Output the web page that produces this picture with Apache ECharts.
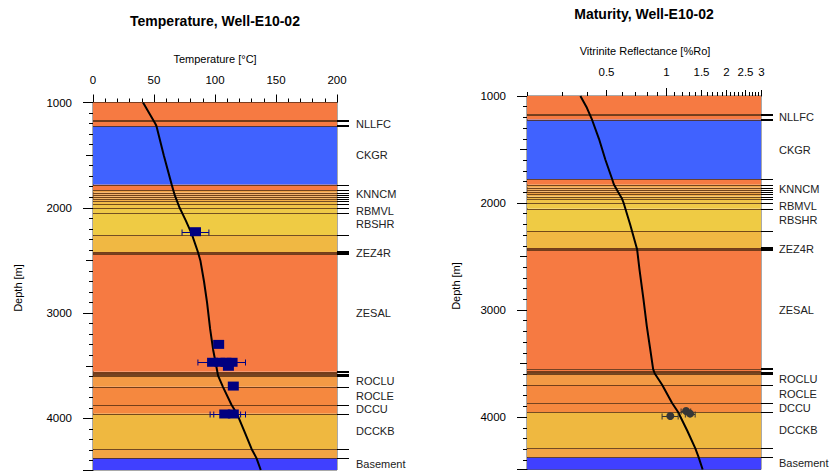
<!DOCTYPE html>
<html><head><meta charset="utf-8">
<script src="https://cdn.jsdelivr.net/npm/echarts@6/dist/echarts.min.js"></script>
<style>html,body{margin:0;padding:0;background:#fff}#c{width:830px;height:472px}</style>
</head><body><div id="c"></div>
<script>
// ---------- data ----------
const roTickLabels = [0.5, 1, 1.5, 2, 2.5, 3];
const roMinorTicks = [0.2, 0.3, 0.4, 0.6, 0.7, 0.8, 0.9, 1.1, 1.2, 1.3, 1.4, 1.6, 1.7, 1.8, 1.9, 2.1, 2.2, 2.3, 2.4, 2.6, 2.7, 2.8, 2.9];

const layerTops  = [1000, 1176, 1223, 1780, 1830, 1855, 1875, 1893, 1915, 1940, 1965, 2003, 2052, 2262, 2420, 2437, 3555, 3580, 3594, 3700, 3872, 3955, 4293, 4377];
const layerBases = [1176, 1223, 1780, 1830, 1855, 1875, 1893, 1915, 1940, 1965, 2003, 2052, 2262, 2420, 2437, 3555, 3580, 3594, 3700, 3872, 3955, 4293, 4377, 4490];

const formationNames = ['NLLFC', 'CKGR', 'KNNCM', 'RBMVL', 'RBSHR', 'ZEZ4R', 'ZESAL', 'ROCLU', 'ROCLE', 'DCCU', 'DCCKB', 'Basement'];
const formationTops  = [1176, 1223, 1780, 2003, 2052, 2420, 2437, 3594, 3700, 3872, 3955, 4377];
const formationBases = [1223, 1780, 1965, 2052, 2262, 2437, 3555, 3700, 3872, 3955, 4293, 4490];

const tempProfileDepth = [1000, 1100, 1200, 1223, 1500, 1780, 1880, 2000, 2120, 2250, 2420, 2500, 2700, 2900, 3150, 3350, 3500, 3594, 3700, 3870, 3955, 4120, 4290, 4377, 4490];
const tempProfileValue = [41, 46, 51, 52, 58, 64.5, 67, 71, 76, 81, 86, 88, 91, 93.5, 96, 98.5, 101, 102.5, 106.5, 113.5, 118, 124, 130, 134, 137.5];

const tempObsDepth = [2227, 3297, 3467, 3467, 3467, 3467, 3505, 3693, 3958, 3958];
const tempObsValue = [84, 103, 98, 104, 109, 114, 111, 115, 108, 115];
const tempObsLow   = [73, null, 86, null, null, 103, null, null, 96, 99];
const tempObsHigh  = [95, null, 110, null, null, 125, null, null, 121, 125];

const roProfileDepth = [1000, 1110, 1224, 1400, 1598, 1778, 1824, 1900, 1961, 2000, 2200, 2431, 2620, 2900, 3150, 3350, 3552, 3593, 3698, 3869, 3953, 4130, 4293, 4374, 4490];
const roProfileValue = [0.371, 0.40, 0.425, 0.46, 0.496, 0.536, 0.546, 0.575, 0.601, 0.612, 0.66, 0.715, 0.735, 0.77, 0.80, 0.83, 0.861, 0.877, 0.955, 1.072, 1.149, 1.28, 1.403, 1.457, 1.527];

const roObsDepth = [3990, 3943, 3968];
const roObsValue = [1.05, 1.26, 1.32];
const roObsLow   = [0.955, 1.19, 1.25];
const roObsHigh  = [1.15, 1.33, 1.40];

// ---------- styles ----------
const layerColors = ['#F67A42', '#F67A42', '#4062FF', '#F67A42', '#F3A64A', '#EE9C40', '#F5A548', '#F0A040', '#F4B04A', '#F2BC48', '#F0C448', '#EFC947', '#EFCB44', '#F0B843', '#F67A42', '#F67A42', '#F67A42', '#F67A42', '#F39A45', '#F5883F', '#F5883F', '#EFB840', '#F2A444', '#4040FF'];
const innerWeights = [2, 1, 1, 1, 1, 1, 1, 1, 1, 1, 1, 1, 1, 1, 2, 1, 2, 2, 1, 1, 1, 1, 1];
const tickWeights  = [2, 2, 1, 1, 1, 1, 1, 1, 1, 1, 1, 1, 1, 2, 2, 2, 1, 2, 1, 1, 1, 1, 1];
const FONT = 'Liberation Sans, Arial, sans-serif';

const chart = echarts.init(document.getElementById('c'), null, {renderer: 'svg'});

function crisp(y, w) { return Math.round(w) % 2 ? Math.round(y) + 0.5 : Math.round(y); }

function panelSeries(gi, xRef, labelGap) {
  const xa = gi, ya = gi * 2;
  const boundaries = layerTops.slice(1);
  return [
    { type: 'custom', xAxisIndex: xa, yAxisIndex: ya, z: 1, silent: true, clip: false,
      data: layerTops.map((t, i) => [t, layerBases[i]]), encode: {y: [0, 1]},
      renderItem: (params, api) => {
        const cs = params.coordSys;
        const y1 = api.coord([xRef, api.value(0)])[1];
        const y2 = api.coord([xRef, api.value(1)])[1];
        return {type: 'rect', shape: {x: cs.x, y: y1, width: cs.width, height: y2 - y1},
          style: {fill: layerColors[params.dataIndex]}};
      } },
    { type: 'custom', xAxisIndex: xa, yAxisIndex: ya, z: 2, silent: true, clip: false,
      data: boundaries.map(d => [d]), encode: {y: 0},
      renderItem: (params, api) => {
        const cs = params.coordSys;
        const wi = innerWeights[params.dataIndex];
        const wt = tickWeights[params.dataIndex];
        const yr = api.coord([xRef, api.value(0)])[1];
        const yi = crisp(yr, wi), yt = crisp(yr, wt);
        return {type: 'group', children: [
          {type: 'line', shape: {x1: cs.x, y1: yi, x2: cs.x + cs.width, y2: yi},
            style: {stroke: 'rgba(80,42,14,0.78)', lineWidth: wi}},
          {type: 'line', shape: {x1: cs.x + cs.width, y1: yt, x2: cs.x + cs.width + 12, y2: yt},
            style: {stroke: '#000', lineWidth: wt}}
        ]};
      } },
    { type: 'custom', xAxisIndex: xa, yAxisIndex: ya, z: 2, silent: true, clip: false,
      data: formationTops.map((t, i) => [t, formationBases[i]]), encode: {y: [0, 1]},
      renderItem: (params, api) => {
        const cs = params.coordSys;
        const y1 = api.coord([xRef, api.value(0)])[1];
        const y2 = api.coord([xRef, api.value(1)])[1];
        return {type: 'text', x: cs.x + cs.width + labelGap, y: (y1 + y2) / 2,
          style: {text: formationNames[params.dataIndex], fill: '#222', font: '11px ' + FONT,
            align: 'left', verticalAlign: 'middle'}};
      } }
  ];
}

function errorBarSeries(xa, ya, depth, val, lo, hi, color) {
  const rows = [];
  depth.forEach((d, i) => { if (lo[i] != null) rows.push([val[i], d, lo[i], hi[i]]); });
  return { type: 'custom', xAxisIndex: xa, yAxisIndex: ya, z: 4, silent: true, clip: false,
    data: rows, encode: {x: 0, y: 1},
    renderItem: (params, api) => {
      const p = api.coord([api.value(2), api.value(1)]);
      const q = api.coord([api.value(3), api.value(1)]);
      const y = Math.round(p[1]) + 0.5;
      const st = {stroke: color, lineWidth: 1};
      return {type: 'group', children: [
        {type: 'line', shape: {x1: p[0], y1: y, x2: q[0], y2: y}, style: st},
        {type: 'line', shape: {x1: p[0], y1: y - 3, x2: p[0], y2: y + 3}, style: st},
        {type: 'line', shape: {x1: q[0], y1: y - 3, x2: q[0], y2: y + 3}, style: st}
      ]};
    } };
}

const yAxisBase = (gi) => ({
  type: 'value', gridIndex: gi, min: 1000, max: 4490, interval: 500, inverse: true,
  axisLine: {show: true, lineStyle: {color: '#000', width: 1}},
  axisTick: {show: true, length: 7, lineStyle: {color: '#000'}},
  minorTick: {show: true, splitNumber: 5, length: 4, lineStyle: {color: '#000'}},
  splitLine: {show: false},
  axisLabel: {margin: 21, color: '#000', fontSize: 11.5, fontFamily: FONT,
    formatter: v => (v % 1000 === 0 ? String(v) : '')}
});
const yAxisLong = (gi) => ({
  type: 'value', gridIndex: gi, min: 1000, max: 4490, interval: 1000, inverse: true, position: 'left',
  axisLine: {show: false}, axisTick: {show: true, length: 10, lineStyle: {color: '#000'}},
  splitLine: {show: false}, axisLabel: {show: false}
});

const option = {
  animation: false,
  grid: [
    {left: 93, top: 102.5, width: 244, height: 367.5, show: true, borderColor: '#555', borderWidth: 1, backgroundColor: 'transparent'},
    {left: 527, top: 96, width: 234, height: 373.5, show: true, borderColor: '#555', borderWidth: 1, backgroundColor: 'transparent'}
  ],
  xAxis: [
    {type: 'value', gridIndex: 0, position: 'top', min: 0, max: 200, interval: 50,
      axisLine: {show: true, lineStyle: {color: '#000'}},
      axisTick: {show: true, length: 8, lineStyle: {color: '#000'}},
      minorTick: {show: true, splitNumber: 5, length: 4, lineStyle: {color: '#000'}},
      splitLine: {show: false},
      axisLabel: {margin: 17, color: '#000', fontSize: 11.5, fontFamily: FONT}},
    {type: 'log', logBase: 10, gridIndex: 1, position: 'top', min: 0.2, max: 3,
      axisLine: {show: true, lineStyle: {color: '#000'}},
      axisTick: {show: false}, axisLabel: {show: false}, splitLine: {show: false}, minorTick: {show: false}}
  ],
  yAxis: [yAxisBase(0), yAxisLong(0), yAxisBase(1), yAxisLong(1)],
  graphic: [
    {type: 'text', x: 215, y: 21, style: {text: 'Temperature, Well-E10-02', font: 'bold 14px ' + FONT, fill: '#000', align: 'center', verticalAlign: 'middle'}},
    {type: 'text', x: 644, y: 14, style: {text: 'Maturity, Well-E10-02', font: 'bold 14px ' + FONT, fill: '#000', align: 'center', verticalAlign: 'middle'}},
    {type: 'text', x: 215, y: 59, style: {text: 'Temperature [°C]', font: '11px ' + FONT, fill: '#000', align: 'center', verticalAlign: 'middle'}},
    {type: 'text', x: 645, y: 51, style: {text: 'Vitrinite Reflectance [%Ro]', font: '11px ' + FONT, fill: '#000', align: 'center', verticalAlign: 'middle'}},
    {type: 'text', x: 18, y: 288, rotation: Math.PI / 2, style: {text: 'Depth [m]', font: '11px ' + FONT, fill: '#000', align: 'center', verticalAlign: 'middle'}},
    {type: 'text', x: 456, y: 286, rotation: Math.PI / 2, style: {text: 'Depth [m]', font: '11px ' + FONT, fill: '#000', align: 'center', verticalAlign: 'middle'}}
  ],
  series: [
    ...panelSeries(0, 100, 19),
    ...panelSeries(1, 1, 18),
    // log axis ticks and labels
    { type: 'custom', xAxisIndex: 1, yAxisIndex: 2, z: 5, silent: true, clip: false,
      data: roMinorTicks.map(v => [v]), encode: {x: 0},
      renderItem: (params, api) => {
        const cs = params.coordSys;
        const x = Math.round(api.coord([api.value(0), 1000])[0]) + 0.5;
        return {type: 'line', shape: {x1: x, y1: cs.y, x2: x, y2: cs.y - 4}, style: {stroke: '#000', lineWidth: 1}};
      } },
    { type: 'custom', xAxisIndex: 1, yAxisIndex: 2, z: 5, silent: true, clip: false,
      data: roTickLabels.map(v => [v]), encode: {x: 0},
      renderItem: (params, api) => {
        const cs = params.coordSys;
        const v = api.value(0);
        const x = Math.round(api.coord([v, 1000])[0]) + 0.5;
        return {type: 'group', children: [
          {type: 'line', shape: {x1: x, y1: cs.y, x2: x, y2: cs.y - (v === 1 ? 8 : 6)}, style: {stroke: '#000', lineWidth: 1}},
          {type: 'text', x: x, y: cs.y - 24, style: {text: String(roTickLabels[params.dataIndex]), font: '11.5px ' + FONT, fill: '#000', align: 'center', verticalAlign: 'middle'}}
        ]};
      } },
    // profiles
    { type: 'line', xAxisIndex: 0, yAxisIndex: 0, z: 3, showSymbol: false, silent: true,
      data: tempProfileDepth.map((d, i) => [tempProfileValue[i], d]),
      lineStyle: {color: '#000', width: 2} },
    { type: 'line', xAxisIndex: 1, yAxisIndex: 2, z: 3, showSymbol: false, silent: true,
      data: roProfileDepth.map((d, i) => [roProfileValue[i], d]),
      lineStyle: {color: '#000', width: 2} },
    // observations
    errorBarSeries(0, 0, tempObsDepth, tempObsValue, tempObsLow, tempObsHigh, '#000080'),
    { type: 'scatter', xAxisIndex: 0, yAxisIndex: 0, z: 5, silent: true,
      symbol: 'rect', symbolSize: [11, 9], itemStyle: {color: '#000080', opacity: 1},
      data: tempObsDepth.map((d, i) => [tempObsValue[i], d]) },
    errorBarSeries(1, 2, roObsDepth, roObsValue, roObsLow, roObsHigh, '#333'),
    { type: 'scatter', xAxisIndex: 1, yAxisIndex: 2, z: 5, silent: true,
      symbol: 'circle', symbolSize: 8, itemStyle: {color: '#363636', opacity: 1},
      data: roObsDepth.map((d, i) => [roObsValue[i], d]) }
  ]
};
chart.setOption(option);
</script></body></html>
